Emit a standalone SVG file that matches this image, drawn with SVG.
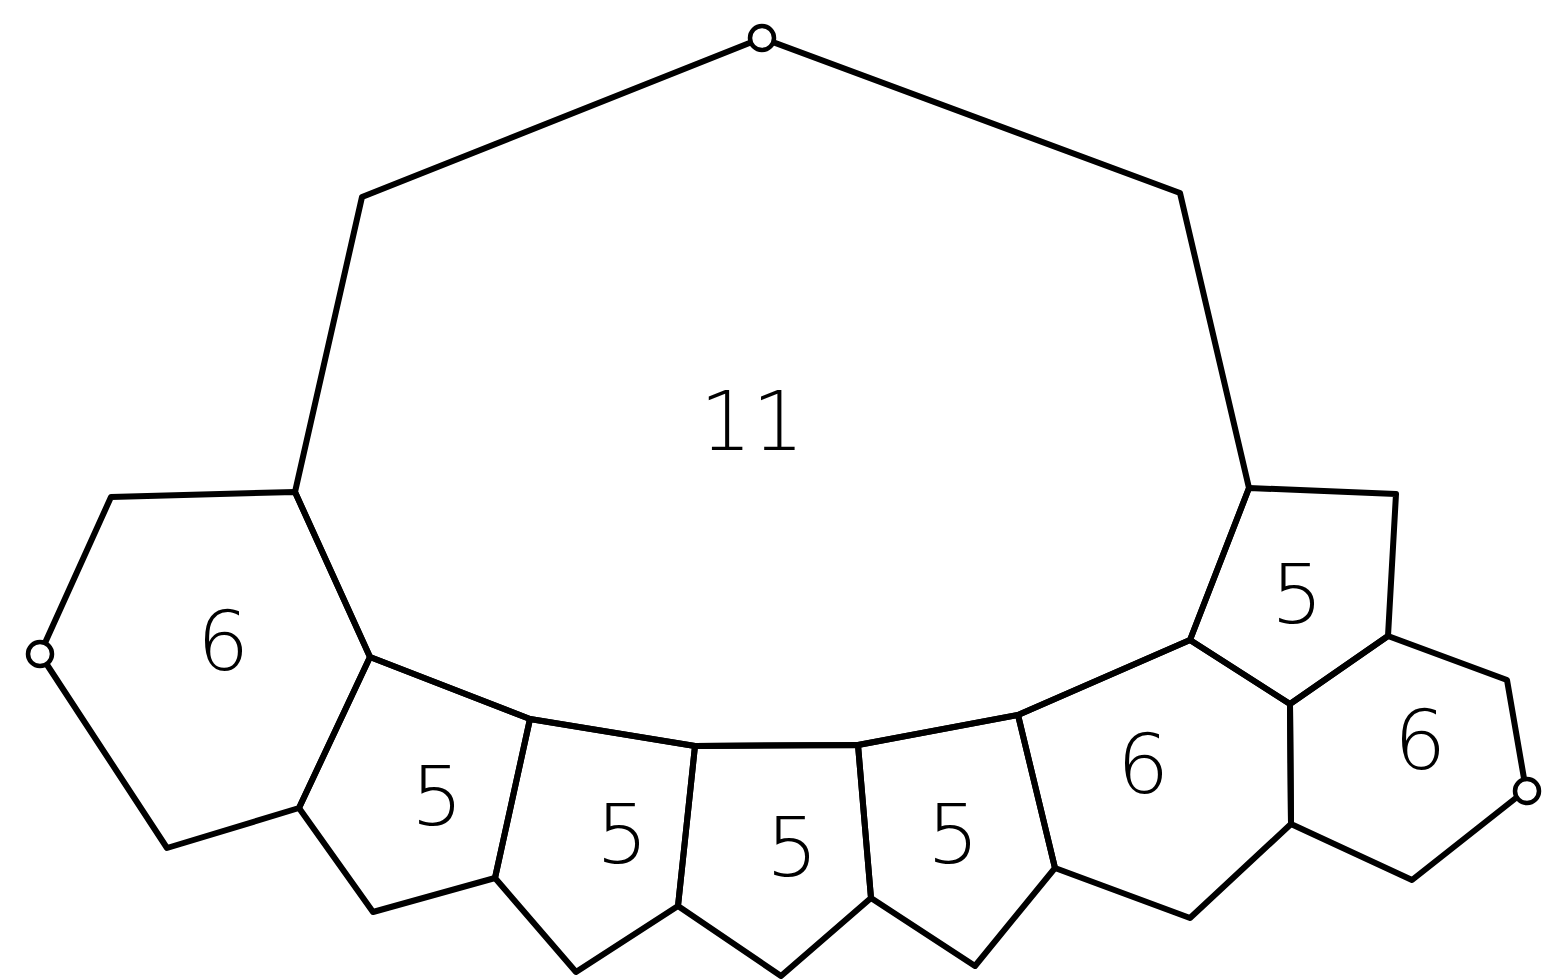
<svg xmlns="http://www.w3.org/2000/svg" width="1542" height="979" viewBox="0 0 1542 979">
<style>
.face{fill:none;stroke:#000;stroke-width:6;stroke-linejoin:round}
.lbl{font-family:"DejaVu Sans","Liberation Sans",sans-serif;font-weight:200;font-size:82px;fill:#000;text-anchor:middle}
.v{fill:#fff;stroke:#000;stroke-width:4.5}
</style>
<rect width="1542" height="979" fill="#fff"/>
<g id="face-11">
<polygon class="face" points="762,38 362,197 295,492 370,657 530,719 695,746 858,745 1018,715 1190,640 1249,488 1180,193"/>
<text class="lbl" x="752" y="450">11</text>
</g>
<g id="face-6-left">
<polygon class="face" points="295,492 111,497 40,654 167,848 299,808 370,657"/>
<text class="lbl" x="223" y="670">6</text>
</g>
<g id="face-5-a">
<polygon class="face" points="370,657 299,808 373,912 495,878 530,719"/>
<text class="lbl" x="437" y="825">5</text>
</g>
<g id="face-5-b">
<polygon class="face" points="530,719 495,878 576,972 678,906 695,746"/>
<text class="lbl" x="622" y="863">5</text>
</g>
<g id="face-5-c">
<polygon class="face" points="695,746 678,906 781,976 871,898 858,745"/>
<text class="lbl" x="792" y="876">5</text>
</g>
<g id="face-5-d">
<polygon class="face" points="858,745 871,898 975,966 1055,868 1018,715"/>
<text class="lbl" x="953" y="863">5</text>
</g>
<g id="face-6-mid">
<polygon class="face" points="1018,715 1055,868 1190,918 1291,824 1290,704 1190,640"/>
<text class="lbl" x="1143" y="793">6</text>
</g>
<g id="face-5-e">
<polygon class="face" points="1249,488 1190,640 1290,704 1388,636 1396,494"/>
<text class="lbl" x="1297" y="623">5</text>
</g>
<g id="face-6-right">
<polygon class="face" points="1388,636 1290,704 1291,824 1412,880 1526,790 1507,680"/>
<text class="lbl" x="1420" y="769">6</text>
</g>
<g id="connectors">
<circle class="v" cx="762" cy="38" r="12"/>
<circle class="v" cx="40" cy="654" r="12"/>
<circle class="v" cx="1527" cy="791" r="12"/>
</g>
</svg>
